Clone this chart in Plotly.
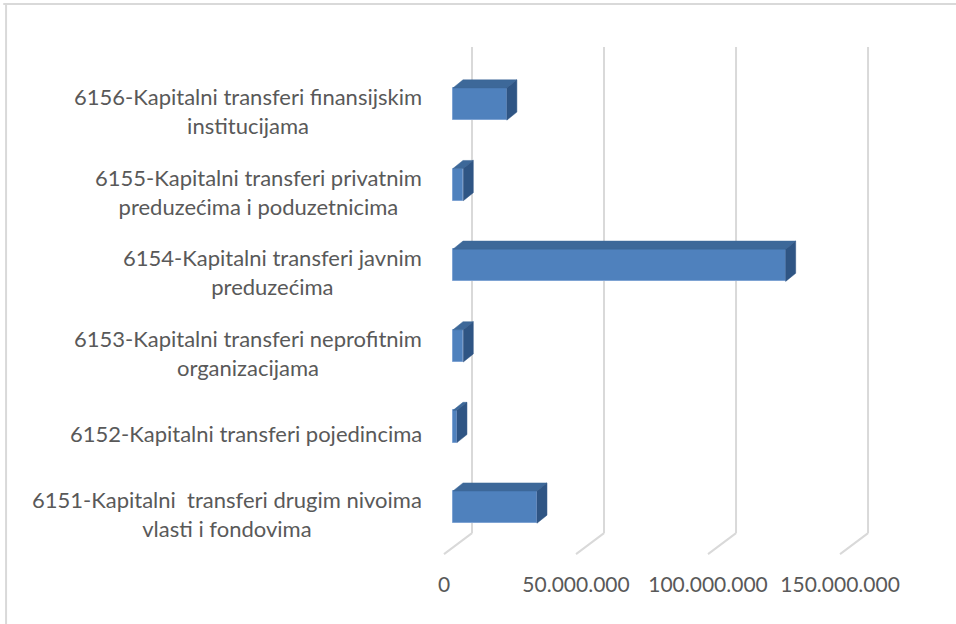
import plotly.graph_objects as go

# categories bottom -> top, as in the reference
categories = [
    "6151-Kapitalni  transferi drugim nivoima<br>vlasti i fondovima",
    "6152-Kapitalni transferi pojedincima",
    "6153-Kapitalni transferi neprofitnim<br>organizacijama",
    "6154-Kapitalni transferi javnim<br>preduzećima",
    "6155-Kapitalni transferi privatnim<br>preduzećima i poduzetnicima",
    "6156-Kapitalni transferi finansijskim<br>institucijama",
]
values = [31_800_000, 1_500_000, 3_900_000, 126_000_000, 3_900_000, 20_400_000]
tick_values = [0, 50_000_000, 100_000_000, 150_000_000]
tick_labels = ["0", "50.000.000", "100.000.000", "150.000.000"]

FRONT = "#4F81BD"
TOP = "#3D6899"
SIDE = "#2F5584"
GRID = "#D9D9D9"
TXT = "#595959"

# fake 3d depth (data units)
dx = 3_790_000      # bar depth along x
dy = 0.1            # bar depth along y
half = 0.2          # half bar thickness
wall_dx = 7_200_000  # back wall offset from bar front
floor_dx = -3_410_000  # front floor edge offset
wall_top, wall_bot, floor_front = 5.707, -0.323, -0.583

pos = list(range(len(categories)))

fig = go.Figure()

# back wall gridlines + floor diagonals
for t in tick_values:
    fig.add_shape(type="line", x0=t + wall_dx, x1=t + wall_dx, y0=wall_bot, y1=wall_top,
                  line=dict(color=GRID, width=2), layer="below")
    fig.add_shape(type="line", x0=t + wall_dx, x1=t + floor_dx, y0=wall_bot, y1=floor_front,
                  line=dict(color=GRID, width=2), layer="below")

# top and side faces
top_x, top_y, side_x, side_y = [], [], [], []
for p, v in zip(pos, values):
    top_x += [0, v, v + dx, dx, 0, None]
    top_y += [p + half, p + half, p + half + dy, p + half + dy, p + half, None]
    side_x += [v, v, v + dx, v + dx, v, None]
    side_y += [p - half, p + half, p + half + dy, p - half + dy, p - half, None]

fig.add_trace(go.Scatter(x=top_x, y=top_y, fill="toself", fillcolor=TOP, mode="lines",
                         line=dict(color=TOP, width=0.5), hoverinfo="skip", showlegend=False))
fig.add_trace(go.Scatter(x=side_x, y=side_y, fill="toself", fillcolor=SIDE, mode="lines",
                         line=dict(color=SIDE, width=0.5), hoverinfo="skip", showlegend=False))

fig.add_trace(go.Bar(x=values, y=pos, orientation="h", width=2 * half,
                     marker=dict(color=FRONT, line=dict(color="#7EA3D3", width=1)),
                     showlegend=False))

# category labels, centred lines, right aligned block
for p, c in zip(pos, categories):
    fig.add_annotation(x=0, xref="paper", y=p, yref="y", text=c, showarrow=False,
                       xanchor="right", align="center", yshift=-7, xshift=-6,
                       font=dict(family="Lato", size=22, color=TXT))

# chart border (top and left edges visible)
fig.add_shape(type="line", xref="paper", yref="paper", x0=-0.908, x1=1.2, y0=1.068, y1=1.068,
              line=dict(color=GRID, width=2))
fig.add_shape(type="line", xref="paper", yref="paper", x0=-0.902, x1=-0.902, y0=1.068, y1=-0.2,
              line=dict(color=GRID, width=2))

fig.update_layout(
    width=956, height=624,
    margin=dict(l=430, r=56, t=40, b=54),
    paper_bgcolor="white", plot_bgcolor="white",
    bargap=0,
    xaxis=dict(range=[-8_710_000, 169_300_000], showgrid=False, zeroline=False,
               tickvals=[t + floor_dx for t in tick_values], ticktext=tick_labels,
               tickfont=dict(family="Lato", size=21, color=TXT), ticks="", showline=False),
    yaxis=dict(range=[-0.78, 5.794], showgrid=False, zeroline=False, showticklabels=False,
               showline=False),
)

fig.write_html("out.html", config={"displayModeBar": False},
               post_script="document.body.style.margin='0';")
